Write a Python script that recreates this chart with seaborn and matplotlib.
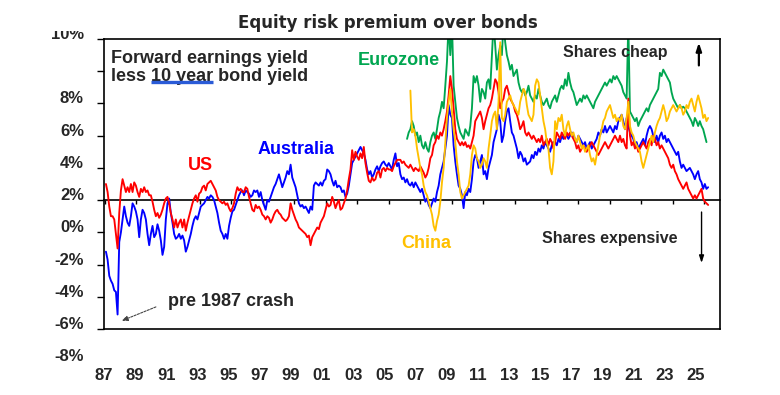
import numpy as np
import pandas as pd
import matplotlib
matplotlib.use('Agg')
import matplotlib.pyplot as plt
import seaborn as sns
from matplotlib.lines import Line2D
from matplotlib.transforms import Bbox, TransformedBbox, blended_transform_factory

# readings were taken every ~5.5 weeks off the chart
STEP = 5 / 3 / 15.8

# US: forward earnings yield less 10 year bond yield (%)
us_87_96 = [1.0, 0.5, -0.4, -1.0, -1.0, -1.2, -2.1, -3.0, -0.8, 0.6,
            1.3, 0.9, 0.5, 0.8, 0.5, 1.0, 0.5, 1.1, 0.9, 0.5,
            0.2, 0.7, 0.5, 0.8, 0.5, 0.6, 0.3, 0.3, -0.1, -0.6,
            -1.0, -0.8, -1.1, -0.9, -0.6, -0.2, 0.1, 0.2, -0.2, -0.8,
            -1.2, -1.7, -1.2, -1.7, -1.4, -1.2, -1.7, -1.2, -1.9, -1.4,
            -1.0, -0.6, -0.2, 0.1, 0.3, -0.1, 0.4, 0.5, 0.8, 0.9,
            0.6, 1.0, 1.1, 1.2, 1.0, 0.8, 0.6, 0.2, 0.0, -0.1,
            -0.2, -0.1, -0.3, -0.2, -0.5, -0.7, -0.5, -0.2, 0.4, 0.8,
            0.6, 0.7, 0.5, 0.5, 0.8, 0.7, 0.2, -0.2, -0.6, -0.7]
us_96_05 = [-0.3, -0.5, -0.4, -0.6, -0.9, -1.0, -1.2, -1.0, -1.1, -1.4,
            -1.2, -0.9, -0.7, -0.6, -0.8, -0.9, -1.1, -1.2, -1.3, -1.2,
            -1.0, -0.2, -0.6, -0.9, -1.2, -1.4, -1.7, -1.8, -1.9, -2.0,
            -2.1, -2.3, -2.2, -2.8, -2.3, -2.1, -1.9, -1.7, -1.8, -1.4,
            -1.2, -1.0, -0.6, -0.2, -0.4, -0.3, 0.2, -0.1, -0.5, -0.2,
            0.0, -0.6, -0.5, -0.2, 0.1, 0.6, 1.3, 1.9, 3.1, 2.5,
            3.0, 2.7, 2.5, 2.9, 2.6, 3.3, 2.3, 1.7, 1.2, 1.1,
            1.4, 1.2, 1.3, 1.7, 1.8, 1.4, 1.9, 2.0, 1.8, 2.0,
            1.9, 1.9, 1.8, 2.1, 2.3, 2.5, 2.5]
us_05_15 = [2.5, 2.3, 2.4, 2.2, 2.1, 2.0, 2.2, 2.0, 1.8, 2.0,
            1.9, 1.8, 2.1, 1.9, 1.7, 1.4, 1.6, 2.0, 2.6, 2.8,
            3.4, 3.6, 4.0, 3.8, 4.2, 4.0, 4.4, 4.9, 5.5, 6.5,
            7.7, 6.9, 5.7, 4.4, 3.8, 3.6, 3.4, 3.6, 3.4, 3.6,
            3.3, 3.4, 3.2, 3.6, 4.0, 4.9, 5.1, 5.3, 5.5, 5.1,
            4.4, 4.9, 5.3, 5.7, 5.9, 6.3, 6.9, 7.5, 7.3, 6.7,
            5.7, 6.1, 6.3, 6.9, 7.1, 6.7, 6.3, 6.1, 5.9, 5.5,
            5.3, 4.9, 4.4, 4.6, 4.9, 4.2, 4.0, 4.2, 4.0, 3.8,
            4.0, 3.8, 3.6, 3.8, 3.6, 4.0, 3.4, 3.6, 3.8, 3.4,
            3.8, 3.6, 3.2]
us_15_25 = [3.6, 4.2, 4.0, 3.8, 4.2, 4.0, 3.8, 4.2, 4.0, 4.2,
            4.0, 3.8, 3.6, 3.2, 3.4, 3.0, 3.2, 3.4, 3.2, 3.0,
            3.2, 3.4, 3.6, 3.4, 3.2, 3.0, 2.8, 3.0, 3.2, 3.4,
            3.6, 3.4, 3.2, 3.4, 3.6, 3.8, 4.0, 3.8, 3.6, 4.0,
            3.6, 3.8, 3.4, 3.2, 6.3, 4.0, 3.4, 3.6, 3.2, 3.4,
            3.0, 3.2, 3.4, 3.6, 3.4, 3.2, 3.6, 3.8, 3.4, 4.0,
            3.8, 3.4, 3.6, 3.2, 3.4, 3.2, 3.0, 2.8, 2.6, 2.2,
            2.0, 2.2, 1.8, 1.6, 1.3, 1.1, 0.9, 0.7, 0.9, 1.1,
            0.7, 0.5, 0.3, 0.1, 0.3, 0.1, 0.3, 0.5, 0.7, 0.1,
            -0.1, -0.2, -0.3]

# Australia
au_87_96 = [-3.2, -3.7, -4.7, -5.0, -5.2, -5.6, -5.7, -7.1, -2.6, -2.0,
            -1.2, -0.4, -1.0, -1.4, -1.6, -1.0, -0.2, -0.4, -0.7, -1.2,
            -2.3, -1.2, -0.6, -0.8, -1.2, -2.1, -2.8, -2.1, -1.6, -2.3,
            -2.1, -1.5, -1.9, -2.5, -3.4, -2.9, -1.2, -0.2, 0.1, -0.8,
            -1.4, -2.1, -2.4, -2.3, -2.1, -2.4, -2.2, -2.5, -3.2, -2.9,
            -2.5, -2.1, -1.6, -1.2, -1.0, -1.2, -0.8, -0.4, -0.3, -0.2,
            0.0, 0.2, 0.1, 0.3, 0.2, 0.0, -0.4, -0.8, -1.4, -1.9,
            -2.1, -2.4, -2.1, -2.4, -1.6, -1.1, -0.7, -0.6, -0.3, 0.0,
            0.3, 0.5, 0.6, 0.3, 0.6, 0.5, 0.4, 0.2, 0.3, 0.6]
au_96_05 = [0.5, 0.6, 0.2, 0.5, 0.0, -0.3, -0.6, 0.0, -0.1, 0.2,
            0.5, 0.8, 1.0, 1.3, 1.6, 1.2, 0.8, 1.1, 1.4, 1.8,
            1.6, 2.2, 1.4, 1.1, 0.8, 0.3, -0.2, -0.4, -0.3, -0.5,
            -0.4, -0.6, -0.8, -0.4, -0.6, 0.9, 1.1, 1.0, 0.9, 1.1,
            0.9, 1.2, 1.3, 1.9, 1.8, 1.6, 1.2, 0.9, 1.2, 0.8,
            0.9, 0.8, 0.5, 0.6, 0.2, 0.4, 0.9, 1.6, 2.3, 2.5,
            2.7, 2.9, 3.1, 3.3, 3.1, 2.9, 2.5, 1.9, 1.6, 1.8,
            1.4, 1.6, 1.9, 2.1, 1.8, 2.1, 2.3, 2.4, 2.2, 2.1,
            2.3, 2.1, 1.9, 2.5, 2.9, 2.1, 2.3]
au_05_15 = [1.6, 1.3, 1.4, 1.1, 1.3, 1.0, 0.9, 1.1, 0.8, 1.1,
            0.9, 0.7, 0.5, 0.7, 0.3, -0.1, 0.1, -0.3, -0.5, -0.2,
            0.1, -0.1, 0.5, 0.9, 1.6, 2.0, 2.4, 3.2, 4.0, 5.9,
            5.3, 5.1, 3.4, 2.4, 1.6, 0.9, 0.7, 0.3, -0.5, 0.5,
            0.3, 0.7, 0.5, 1.3, 2.4, 2.8, 2.6, 2.0, 2.4, 2.8,
            1.6, 1.8, 1.3, 2.0, 2.4, 2.8, 3.6, 4.0, 4.4, 5.3,
            4.9, 3.6, 4.0, 4.9, 5.5, 5.7, 4.9, 4.2, 4.0, 3.6,
            3.2, 2.6, 3.0, 2.8, 2.4, 2.6, 2.2, 2.3, 2.4, 2.8,
            2.6, 3.0, 2.8, 3.2, 3.0, 3.4, 3.2, 3.6, 3.4, 3.2,
            3.0, 3.4, 3.6]
au_15_25 = [3.6, 3.4, 3.8, 3.6, 4.0, 3.8, 4.2, 4.0, 3.8, 4.0,
            4.2, 4.0, 3.8, 3.6, 4.0, 3.8, 3.6, 3.4, 3.6, 3.2,
            3.4, 3.6, 3.2, 3.4, 3.6, 3.8, 4.2, 4.0, 4.4, 4.2,
            4.6, 4.2, 4.4, 4.6, 4.4, 4.2, 4.6, 4.4, 4.9, 5.1,
            5.3, 4.9, 4.4, 5.1, 4.6, 4.2, 4.0, 3.8, 3.4, 3.6,
            3.2, 3.4, 3.6, 3.8, 3.4, 4.0, 4.4, 4.6, 4.4, 4.0,
            3.6, 4.0, 3.6, 4.0, 4.2, 3.8, 4.0, 3.6, 3.8, 3.6,
            3.4, 3.2, 3.0, 2.8, 3.0, 2.4, 2.0, 2.2, 2.0, 1.8,
            1.9, 2.0, 1.8, 1.6, 1.3, 1.6, 1.8, 1.3, 1.1, 0.7,
            1.0, 0.7, 0.8]

# Eurozone (spikes run off the top of the chart)
eu_06_15 = [3.8, 4.2, 4.4, 4.9, 4.6, 4.0, 4.2, 3.6, 4.0, 3.4,
            3.2, 3.6, 3.2, 3.0, 3.6, 4.0, 4.2, 3.8, 4.4, 5.1,
            5.5, 6.1, 5.7, 7.1, 8.6, 11.0, 9.0, 11.0, 7.1, 6.1,
            5.1, 4.6, 4.2, 4.0, 3.8, 4.4, 4.2, 4.0, 4.6, 5.7,
            7.7, 7.3, 7.7, 7.1, 6.1, 6.9, 6.7, 6.3, 7.3, 7.5,
            6.9, 9.0, 11.0, 9.6, 8.1, 9.0, 9.6, 9.0, 11.0, 9.8,
            9.0, 8.6, 8.1, 8.4, 7.7, 7.9, 8.1, 7.3, 6.9, 6.7,
            6.9, 6.5, 6.7, 7.1, 6.5, 6.3, 6.1, 6.5, 6.3, 6.9,
            6.5, 6.1, 5.9, 6.1, 6.3, 5.9, 5.7, 6.1, 6.3]
eu_15_25 = [6.5, 6.1, 6.5, 6.9, 7.1, 6.9, 7.5, 7.1, 7.9, 7.3,
            6.9, 6.7, 6.3, 5.9, 6.1, 6.3, 6.1, 6.5, 6.3, 6.5,
            6.3, 6.1, 5.9, 5.7, 6.1, 6.3, 6.5, 6.7, 6.9, 7.1,
            7.3, 7.1, 7.3, 7.5, 7.3, 7.7, 7.5, 7.7, 7.5, 7.3,
            7.1, 6.7, 6.5, 6.3, 11.0, 5.5, 5.3, 5.1, 4.9, 5.1,
            4.6, 4.9, 5.1, 5.3, 5.5, 5.7, 5.5, 5.9, 6.1, 6.3,
            6.5, 6.7, 6.9, 7.9, 7.7, 8.1, 7.9, 7.7, 7.5, 7.3,
            6.7, 6.3, 6.1, 5.9, 5.7, 5.9, 5.7, 5.8, 5.7, 5.5,
            5.3, 5.1, 4.9, 4.6, 5.1, 4.9, 4.6, 4.9, 4.6, 4.4,
            4.0, 3.6]

# China
cn_06_15 = [6.8, 4.2, 4.4, 4.0, 3.2, 2.6, 2.0, 1.6, 0.9, 0.5,
            0.3, -0.1, -0.5, -0.9, -1.6, -1.9, -1.3, -0.9, -0.1, 1.1,
            2.0, 3.6, 5.1, 6.1, 6.9, 5.5, 4.4, 3.6, 2.4, 1.6,
            0.5, 0.1, 0.3, 0.5, 0.7, 0.9, 1.6, 2.8, 3.4, 3.2,
            2.6, 2.4, 2.0, 2.2, 2.6, 2.4, 2.0, 3.2, 4.0, 4.9,
            5.3, 5.5, 4.4, 6.1, 9.8, 5.1, 4.9, 5.3, 6.1, 6.3,
            6.5, 6.1, 5.9, 5.7, 5.5, 5.3, 6.1, 6.5, 6.9, 6.7,
            5.9, 5.3, 5.1, 4.9, 5.3, 7.1, 7.5, 7.3, 6.5, 5.7,
            4.9, 4.4, 3.6, 3.2, 2.0, 1.6, 2.4]
cn_15_25 = [4.9, 4.4, 5.1, 4.9, 5.3, 4.4, 4.0, 4.6, 4.9, 4.4,
            4.0, 4.2, 3.8, 3.6, 4.0, 3.6, 3.2, 3.4, 3.0, 3.2,
            3.4, 2.8, 2.4, 2.6, 2.2, 2.8, 3.4, 4.0, 4.4, 4.9,
            5.1, 5.5, 5.7, 5.9, 5.5, 5.1, 5.3, 4.9, 5.1, 4.9,
            5.3, 4.6, 4.4, 5.1, 6.1, 4.6, 4.2, 4.0, 3.6, 3.4,
            3.2, 3.0, 2.4, 2.0, 2.4, 2.8, 3.2, 3.6, 4.0, 3.6,
            4.2, 4.6, 4.9, 5.1, 5.5, 5.9, 5.5, 4.9, 5.1, 5.5,
            5.7, 5.9, 5.7, 5.5, 5.7, 5.9, 5.7, 5.3, 5.5, 5.9,
            5.7, 6.1, 6.3, 5.9, 5.5, 6.1, 6.5, 6.1, 5.7, 5.1,
            5.3, 4.9, 5.1]

# start year of each block of readings
segments = {
    'Eurozone': [(2006.156, eu_06_15), (2015.544, eu_15_25)],
    'Australia': [(1987.063, au_87_96), (1996.557, au_96_05),
                  (2005.734, au_05_15), (2015.544, au_15_25)],
    'US': [(1987.063, us_87_96), (1996.557, us_96_05),
           (2005.734, us_05_15), (2015.544, us_15_25)],
    'China': [(2006.367, cn_06_15), (2015.544, cn_15_25)],
}
colors = {'US': '#FF0000', 'Australia': '#0000FF', 'Eurozone': '#00A650', 'China': '#FFC000'}

year_ticks = list(range(1987, 2026, 2))
year_labels = ['%02d' % (y % 100) for y in year_ticks]
ylab_text = ['10%', '8%', '6%', '4%', '2%', '0%', '-2%', '-4%', '-6%', '-8%']
ylab_pos = [10, 6, 4, 2, 0, -2, -4, -6, -8, -10]

frames = []
for region, segs in segments.items():
    for start, vals in segs:
        frames.append(pd.DataFrame({'year': start + STEP * np.arange(len(vals)),
                                    'erp': vals, 'region': region}))
df = pd.concat(frames, ignore_index=True)

sns.set_style('white')
plt.rcParams['font.family'] = ['Liberation Sans', 'DejaVu Sans']
plt.rcParams['font.weight'] = 'bold'

fig = plt.figure(figsize=(7.8, 3.95), dpi=100)
ax = fig.add_axes([104 / 780, 1 - 329 / 395, 616 / 780, 290 / 395])

sns.lineplot(data=df, x='year', y='erp', hue='region', hue_order=list(segments),
             palette=colors, estimator=None, linewidth=1.35, legend=False, ax=ax)

ax.set_xlim(1987, 2026)
ax.set_ylim(-8, 10)
ax.set_xlabel('')
ax.set_ylabel('')
for sp in ax.spines.values():
    sp.set_visible(True)
    sp.set_color('black')
    sp.set_linewidth(1.2)

# y ticks on the left spine, labels drawn separately
ax.set_yticks(np.arange(-8, 11, 2))
ax.set_yticklabels([])
ax.tick_params(axis='y', left=True, direction='out', length=5, width=1, color='black')
ytr = blended_transform_factory(ax.transAxes, ax.transData)
for txt, pos in zip(ylab_text, ylab_pos):
    t = ax.text(-0.0325, pos, txt, transform=ytr, ha='right', va='baseline',
                fontsize=12, fontweight='bold', clip_on=False)
    if txt == '10%':
        t.set_clip_box(TransformedBbox(Bbox([[0, 0], [1, 1 - 31 / 395]]), fig.transFigure))
        t.set_clip_on(True)

# x labels below the box, slightly drifting left as in the original
lab_pos = [y - 0.0124 * (y - 1987) - 0.06 for y in year_ticks]
ax.set_xticks(lab_pos)
ax.set_xticklabels(year_labels, fontsize=12, fontweight='bold')
ax.tick_params(axis='x', bottom=True, length=0, pad=28)

# zero line with its own small ticks
zero = ax.secondary_xaxis(8 / 18)
zero.set_xticks(year_ticks)
zero.tick_params(axis='x', direction='out', length=3, width=1, color='black', labelbottom=False, labeltop=False)
zero.set_xticklabels([])
for sp in zero.spines.values():
    sp.set_color('black')
    sp.set_linewidth(1.2)

fig.text(388 / 780, 1 - 28.3 / 395, 'Equity risk premium over bonds', ha='center', va='baseline',
         fontsize=12, fontweight='bold', family=['DejaVu Sans'])

# chart annotations
fs = 13
ax.text(1987.38, 8.51, 'Forward earnings yield', ha='left', va='baseline', fontsize=fs, fontweight='bold')
line2 = ax.text(1987.38, 7.40, 'less 10 year bond yield', ha='left', va='baseline', fontsize=fs, fontweight='bold')

renderer = fig.canvas.get_renderer()


def width_px(s):
    t = fig.text(0, 0, s, fontsize=fs, fontweight='bold')
    w = t.get_window_extent(renderer).width
    t.remove()
    return w


x0 = line2.get_window_extent(renderer).x0
u_start = x0 + width_px('less x') - width_px('x')
u_end = x0 + width_px('less 10 year')
y_u = ax.transData.transform((0, 7.31))[1]
fig.add_artist(Line2D([u_start, u_end], [y_u, y_u], transform=None, color='#2A5BD7', lw=2.4,
                      solid_capstyle='butt'))

ax.text(2003.01, 8.36, 'Eurozone', color=colors['Eurozone'], ha='left', va='baseline', fontsize=fs, fontweight='bold')
ax.text(1992.25, 1.86, 'US', color=colors['US'], ha='left', va='baseline', fontsize=fs, fontweight='bold')
ax.text(1996.68, 2.85, 'Australia', color=colors['Australia'], ha='left', va='baseline', fontsize=fs, fontweight='bold')
ax.text(2005.80, -2.99, 'China', color=colors['China'], ha='left', va='baseline', fontsize=fs, fontweight='bold')
ax.text(2016.05, 8.87, 'Shares cheap', ha='left', va='baseline', fontsize=11.5, fontweight='bold')
ax.text(2014.72, -2.64, 'Shares expensive', ha='left', va='baseline', fontsize=11.5, fontweight='bold')
ax.text(1990.99, -6.56, 'pre 1987 crash', ha='left', va='baseline', fontsize=fs, fontweight='bold')

ax.annotate('', xy=(1988.06, -7.49), xytext=(1990.23, -6.63),
            arrowprops=dict(arrowstyle='-|>,head_length=0.6,head_width=0.25', color='#444444',
                            lw=0.8, linestyle=(0, (2, 1.2)), mutation_scale=6, shrinkA=0, shrinkB=0))
ax.annotate('', xy=(2024.66, 9.78), xytext=(2024.66, 8.36),
            arrowprops=dict(arrowstyle='-|>,head_length=0.6,head_width=0.2', color='black',
                            lw=1.6, mutation_scale=8, shrinkA=0, shrinkB=0))
ax.annotate('', xy=(2024.83, -3.90), xytext=(2024.83, -0.74),
            arrowprops=dict(arrowstyle='-|>,head_length=0.6,head_width=0.2', color='black',
                            lw=1.0, mutation_scale=7, shrinkA=0, shrinkB=0))

fig.savefig('out.png', dpi=100)
